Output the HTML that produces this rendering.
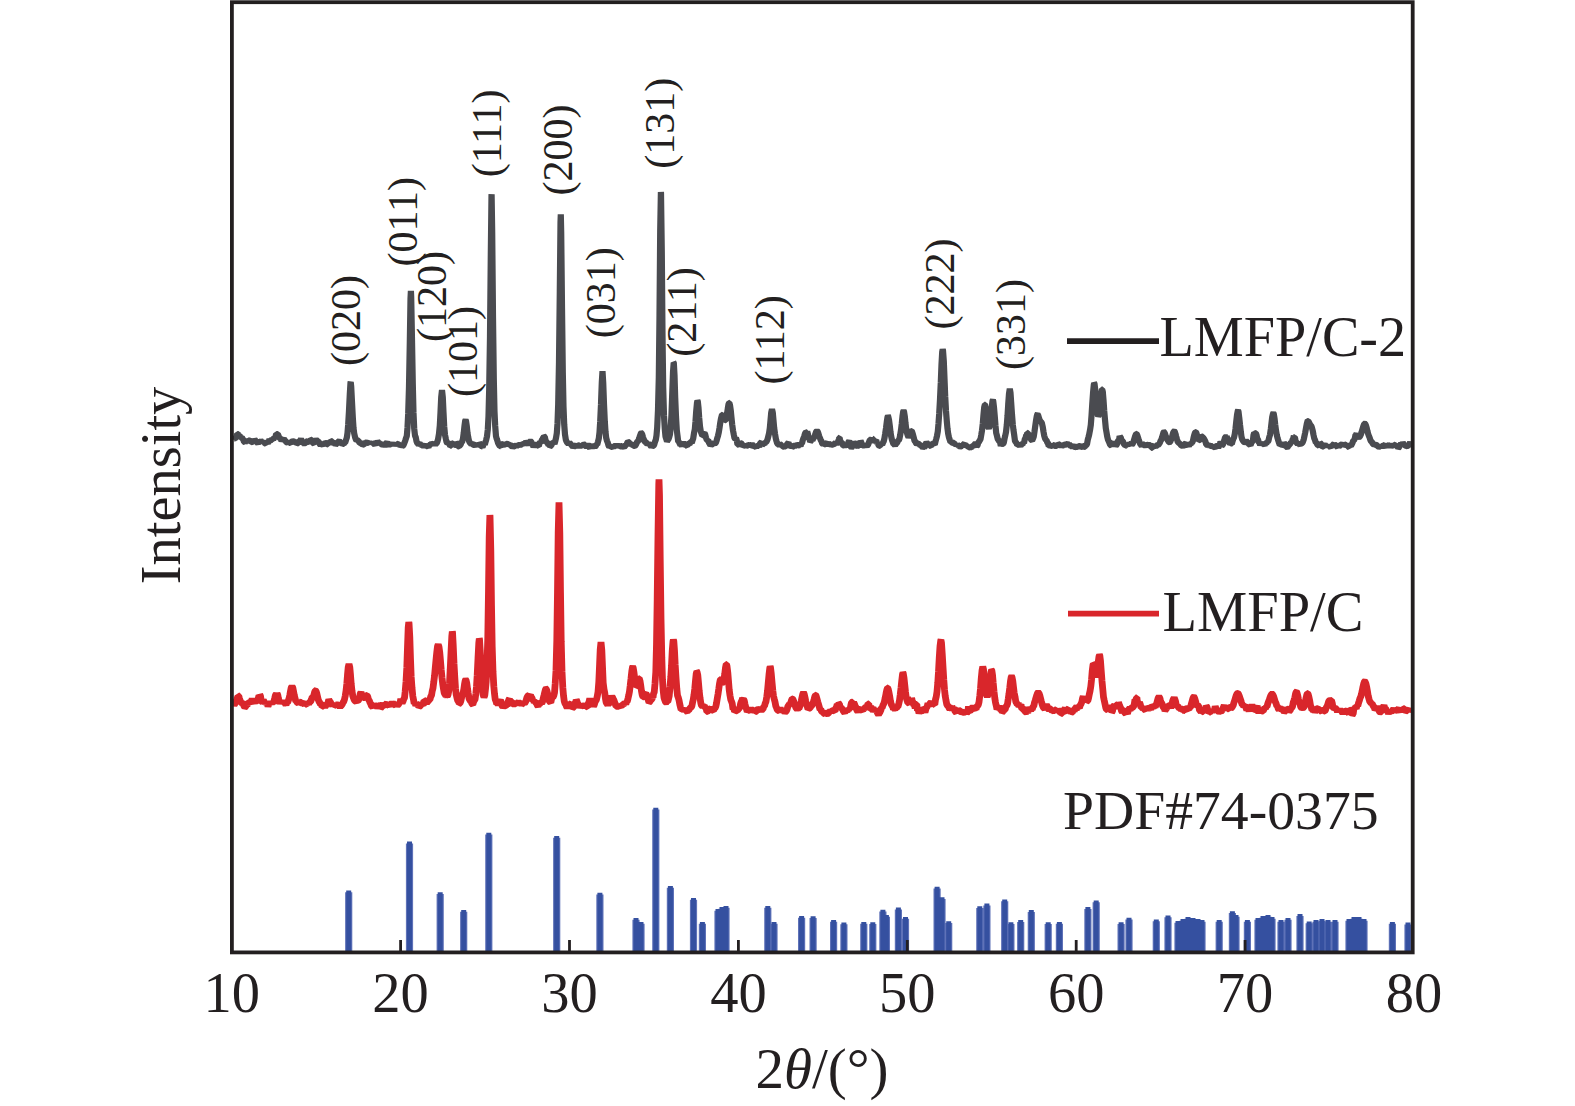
<!DOCTYPE html>
<html><head><meta charset="utf-8"><style>
html,body{margin:0;padding:0;background:#fff;}
svg{display:block;}
text{font-family:"Liberation Serif", serif;fill:#231f20;}
</style></head><body>
<svg width="1575" height="1106" viewBox="0 0 1575 1106">
<rect x="0" y="0" width="1575" height="1106" fill="#fff"/>
<path d="M348.7 951V892.2 M409.5 951V843.4 M440.2 951V894.0 M463.7 951V911.8 M488.8 951V834.5 M556.7 951V837.7 M599.9 951V894.6 M636.0 951V919.8 M641.0 951V923.8 M655.8 951V809.6 M670.4 951V887.8 M693.5 951V899.8 M702.4 951V923.8 M718.0 951V910.8 M722.0 951V908.8 M726.0 951V907.8 M767.8 951V907.8 M774.0 951V923.8 M801.6 951V917.7 M813.1 951V918.0 M833.6 951V921.8 M843.9 951V924.2 M863.8 951V923.8 M872.8 951V924.0 M882.9 951V911.6 M886.4 951V916.8 M898.4 951V909.4 M905.5 951V918.7 M937.1 951V888.5 M942.0 951V899.1 M948.7 951V923.1 M979.8 951V908.0 M986.9 951V905.4 M1004.7 951V901.3 M1010.9 951V924.0 M1020.7 951V921.9 M1031.3 951V911.9 M1048.2 951V924.0 M1059.4 951V923.7 M1087.9 951V908.9 M1096.2 951V902.3 M1121.1 951V924.0 M1129.0 951V919.6 M1156.3 951V921.2 M1168.0 951V917.3 M1178.0 951V922.8 M1183.0 951V920.8 M1188.0 951V918.8 M1193.0 951V919.8 M1198.0 951V920.8 M1202.0 951V921.8 M1219.2 951V921.8 M1232.4 951V913.0 M1236.0 951V916.8 M1247.4 951V921.8 M1258.0 951V919.8 M1263.0 951V917.8 M1268.0 951V916.8 M1272.0 951V918.8 M1281.0 951V921.8 M1288.0 951V919.8 M1300.0 951V915.9 M1309.2 951V923.2 M1316.0 951V921.8 M1322.0 951V920.8 M1328.0 951V921.8 M1335.0 951V921.8 M1349.0 951V920.8 M1354.0 951V918.8 M1359.0 951V918.8 M1364.0 951V920.8 M1392.4 951V923.8 M1408.0 951V924.4" stroke="#5f72b8" stroke-width="7.2" stroke-linecap="butt" fill="none"/>
<path d="M348.7 951V890.4 M409.5 951V841.6 M440.2 951V892.2 M463.7 951V910.0 M488.8 951V832.7 M556.7 951V835.9 M599.9 951V892.8 M636.0 951V918.0 M641.0 951V922.0 M655.8 951V807.8 M670.4 951V886.0 M693.5 951V898.0 M702.4 951V922.0 M718.0 951V909.0 M722.0 951V907.0 M726.0 951V906.0 M767.8 951V906.0 M774.0 951V922.0 M801.6 951V915.9 M813.1 951V916.2 M833.6 951V920.0 M843.9 951V922.4 M863.8 951V922.0 M872.8 951V922.2 M882.9 951V909.8 M886.4 951V915.0 M898.4 951V907.6 M905.5 951V916.9 M937.1 951V886.7 M942.0 951V897.3 M948.7 951V921.3 M979.8 951V906.2 M986.9 951V903.6 M1004.7 951V899.5 M1010.9 951V922.2 M1020.7 951V920.1 M1031.3 951V910.1 M1048.2 951V922.2 M1059.4 951V921.9 M1087.9 951V907.1 M1096.2 951V900.5 M1121.1 951V922.2 M1129.0 951V917.8 M1156.3 951V919.4 M1168.0 951V915.5 M1178.0 951V921.0 M1183.0 951V919.0 M1188.0 951V917.0 M1193.0 951V918.0 M1198.0 951V919.0 M1202.0 951V920.0 M1219.2 951V920.0 M1232.4 951V911.2 M1236.0 951V915.0 M1247.4 951V920.0 M1258.0 951V918.0 M1263.0 951V916.0 M1268.0 951V915.0 M1272.0 951V917.0 M1281.0 951V920.0 M1288.0 951V918.0 M1300.0 951V914.1 M1309.2 951V921.4 M1316.0 951V920.0 M1322.0 951V919.0 M1328.0 951V920.0 M1335.0 951V920.0 M1349.0 951V919.0 M1354.0 951V917.0 M1359.0 951V917.0 M1364.0 951V919.0 M1392.4 951V922.0 M1408.0 951V922.6" stroke="#3550a0" stroke-width="5" stroke-linecap="butt" fill="none"/>
<polyline points="233.5,703.6 234.2,704.8 235.0,703.6 235.8,700.8 236.5,700.5 237.2,698.1 237.9,696.6 238.0,695.8 238.8,696.1 239.5,698.7 240.2,700.6 241.0,702.3 241.8,703.1 242.5,703.1 243.2,703.8 244.0,706.0 244.8,707.3 245.5,706.7 246.2,705.6 247.0,706.1 247.8,702.2 248.5,702.4 249.2,704.0 250.0,701.6 250.8,701.6 251.5,702.3 252.2,698.4 253.0,701.0 253.8,702.0 254.5,703.4 255.2,700.3 256.0,702.5 256.8,699.8 257.5,700.6 258.2,698.7 259.0,695.6 259.7,697.5 259.8,694.7 260.5,696.0 261.2,700.5 262.0,701.7 262.8,702.6 263.5,700.7 264.2,701.6 265.0,703.0 265.8,701.9 266.5,704.4 267.2,703.6 268.0,706.1 268.8,704.3 269.5,702.7 270.2,703.7 271.0,702.0 271.8,703.4 272.5,702.4 273.2,702.9 274.0,701.0 274.8,697.9 275.5,695.0 276.2,694.2 276.7,695.3 277.0,693.4 277.8,695.2 278.5,698.8 279.2,701.1 280.0,703.3 280.8,701.5 281.5,702.7 282.2,700.4 283.0,703.3 283.8,701.1 284.5,703.5 285.2,703.4 286.0,705.0 286.8,702.3 287.5,702.5 288.2,701.0 289.0,698.5 289.8,695.2 290.5,691.2 291.2,687.8 292.0,686.4 292.8,687.8 293.5,691.2 294.2,694.9 295.0,698.0 295.8,701.4 296.5,701.3 297.2,702.6 298.0,702.9 298.8,701.1 299.5,702.2 300.2,702.2 301.0,702.8 301.8,703.1 302.5,702.8 303.2,702.2 304.0,703.8 304.8,704.9 305.5,702.0 306.2,704.2 307.0,704.4 307.8,702.6 308.5,704.6 309.2,702.2 310.0,701.9 310.8,701.2 311.5,699.3 312.2,697.2 313.0,697.1 313.8,695.3 314.5,692.5 315.2,690.7 315.5,690.6 316.0,691.1 316.8,693.4 317.5,696.4 318.2,699.5 319.0,701.5 319.8,702.7 320.5,704.5 321.2,704.1 322.0,706.5 322.8,706.3 323.5,705.1 324.2,705.0 325.0,706.9 325.8,705.6 326.5,703.4 327.2,705.0 328.0,702.7 328.8,699.6 329.5,701.0 330.2,701.9 331.0,703.2 331.8,704.5 332.5,705.7 333.2,703.1 334.0,705.6 334.8,705.2 335.5,703.4 336.2,704.9 337.0,704.7 337.8,705.0 338.5,706.5 339.2,705.9 340.0,707.1 340.8,706.0 341.5,705.4 342.2,704.4 343.0,702.5 343.8,701.4 344.5,699.4 345.2,696.1 346.0,691.1 346.8,683.8 347.5,674.9 348.2,667.3 349.0,664.1 349.8,667.3 350.5,674.9 351.2,684.0 352.0,691.1 352.8,696.1 353.5,697.9 354.2,699.8 355.0,700.8 355.8,701.3 356.5,701.9 357.2,700.6 358.0,700.8 358.8,699.6 359.5,697.9 360.2,693.8 361.0,692.2 361.8,695.3 362.5,696.4 363.2,697.6 364.0,697.6 364.8,697.5 365.5,696.4 366.2,695.5 367.0,695.4 367.8,696.9 368.5,699.8 369.2,700.3 370.0,702.5 370.8,704.1 371.5,706.1 372.2,706.5 373.0,707.6 373.8,703.4 374.5,705.9 375.2,705.0 376.0,706.7 376.8,706.2 377.5,707.7 378.2,706.6 379.0,705.7 379.8,705.4 380.5,708.2 381.2,707.5 382.0,705.3 382.8,703.1 383.5,706.2 384.2,705.3 385.0,705.3 385.8,705.8 386.5,703.7 387.2,702.8 388.0,705.1 388.8,705.3 389.5,706.1 390.2,704.1 391.0,705.4 391.8,703.7 392.5,702.1 393.2,703.9 394.0,704.0 394.8,704.8 395.5,705.2 396.2,703.1 397.0,704.3 397.8,704.9 398.5,704.5 399.2,702.6 400.0,703.2 400.8,699.0 401.5,701.2 402.2,702.9 403.0,701.3 403.8,699.0 404.5,697.8 405.2,691.4 406.0,681.8 406.8,667.7 407.5,647.1 408.2,627.7 408.8,622.2 409.0,623.0 409.8,637.1 410.5,658.8 411.2,677.0 412.0,687.9 412.8,696.2 413.5,699.7 414.2,703.7 415.0,702.7 415.8,705.5 416.5,703.9 417.2,704.6 418.0,704.7 418.8,707.0 419.5,706.4 420.2,705.8 421.0,704.8 421.8,704.2 422.5,704.7 423.2,705.4 424.0,700.5 424.8,700.8 425.5,703.3 426.2,701.6 427.0,702.5 427.8,701.7 428.5,700.4 429.2,699.9 430.0,699.5 430.8,696.3 431.5,695.4 432.2,691.3 433.0,688.1 433.8,681.8 434.5,676.2 435.2,668.5 436.0,660.1 436.8,652.1 437.5,646.4 438.2,644.5 438.2,644.5 439.0,646.9 439.8,653.0 440.5,661.0 441.2,669.5 442.0,677.8 442.8,684.5 443.5,689.0 444.2,692.8 445.0,694.3 445.8,695.6 446.5,695.2 447.2,696.2 448.0,694.9 448.8,690.8 449.5,683.3 450.2,669.8 451.0,652.9 451.8,636.3 452.3,631.6 452.5,632.3 453.2,644.8 454.0,663.5 454.8,677.4 455.5,688.3 456.2,694.5 457.0,698.0 457.8,700.9 458.5,701.4 459.2,703.5 460.0,703.2 460.8,701.3 461.5,698.1 462.2,694.8 463.0,693.4 463.8,689.5 464.5,684.4 465.2,680.5 465.7,679.8 466.0,680.1 466.8,683.4 467.5,688.6 468.2,693.3 469.0,698.6 469.8,700.0 470.5,701.1 471.2,701.6 472.0,703.9 472.8,704.5 473.5,702.0 474.2,700.5 475.0,699.8 475.8,694.1 476.5,686.5 477.2,675.2 478.0,658.5 478.8,643.0 479.3,638.6 479.5,639.2 480.2,650.2 481.0,666.4 481.8,680.7 482.5,689.1 483.2,695.0 484.0,697.2 484.8,695.2 485.5,688.9 486.2,681.7 487.0,665.4 487.8,637.6 488.5,591.1 489.2,536.9 489.9,515.2 490.0,515.8 490.8,550.4 491.5,605.5 492.2,646.8 493.0,672.0 493.8,686.3 494.5,693.7 495.2,699.4 496.0,701.2 496.8,704.0 497.5,703.3 498.2,704.8 499.0,702.7 499.8,701.3 500.5,700.5 501.2,702.0 502.0,705.7 502.8,706.8 503.5,706.1 504.2,705.4 505.0,705.8 505.8,705.7 506.5,705.0 507.2,706.2 508.0,702.2 508.8,699.8 509.5,698.8 510.2,703.7 511.0,701.7 511.8,702.2 512.5,702.2 513.2,703.8 514.0,704.3 514.8,703.9 515.5,702.4 516.2,705.1 517.0,703.1 517.8,702.6 518.5,702.0 519.2,703.2 520.0,703.2 520.8,703.2 521.5,704.6 522.2,703.9 523.0,703.7 523.8,701.7 524.5,703.2 525.2,702.5 526.0,700.9 526.8,697.9 527.5,696.3 528.2,695.7 529.0,695.5 529.8,694.3 529.8,695.9 530.5,695.1 531.2,697.2 532.0,698.0 532.8,700.8 533.5,699.9 534.2,702.7 535.0,701.2 535.8,702.8 536.5,703.3 537.2,705.1 538.0,706.1 538.8,704.3 539.5,704.5 540.2,703.2 541.0,702.5 541.8,703.4 542.5,701.7 543.2,698.6 544.0,695.4 544.8,692.1 545.5,689.4 546.0,688.8 546.2,688.9 547.0,691.0 547.8,694.4 548.5,697.9 549.2,701.3 550.0,701.8 550.8,702.5 551.5,699.3 552.2,697.4 553.0,697.3 553.8,695.6 554.5,692.8 555.2,683.7 556.0,670.4 556.8,640.4 557.5,592.1 558.2,532.6 559.0,502.3 559.8,532.8 560.5,592.4 561.2,641.2 562.0,671.4 562.8,687.5 563.5,695.5 564.2,700.9 565.0,703.5 565.8,704.6 566.5,706.4 567.2,707.8 568.0,705.7 568.8,706.4 569.5,705.8 570.2,704.0 571.0,703.6 571.8,706.1 572.5,707.9 573.2,707.5 574.0,706.4 574.8,703.6 575.5,702.1 576.0,701.5 576.2,699.5 577.0,701.4 577.8,704.2 578.5,705.6 579.2,705.3 580.0,707.3 580.8,706.0 581.5,705.3 582.2,705.8 583.0,707.1 583.8,706.0 584.5,706.6 585.2,704.7 586.0,705.1 586.8,706.8 587.5,707.0 588.2,703.5 589.0,702.0 589.8,698.5 590.5,701.9 591.2,700.8 591.4,699.9 592.0,701.7 592.8,703.8 593.5,706.3 594.2,704.9 595.0,702.3 595.8,700.7 596.5,699.6 597.2,696.6 598.0,692.2 598.8,682.1 599.5,666.5 600.2,649.9 601.0,642.2 601.8,650.0 602.5,666.7 603.2,682.9 604.0,689.2 604.8,693.2 605.5,698.9 606.2,702.7 607.0,703.7 607.8,705.0 608.5,702.9 609.2,703.3 610.0,703.1 610.8,698.5 611.5,695.9 612.2,697.8 612.3,696.3 613.0,698.9 613.8,699.8 614.5,701.8 615.2,703.8 616.0,706.2 616.8,706.3 617.5,706.5 618.2,706.3 619.0,706.2 619.8,704.9 620.5,706.4 621.2,707.0 622.0,704.6 622.8,704.6 623.0,705.6 623.5,704.3 624.2,703.8 625.0,702.2 625.8,704.5 626.5,701.8 627.2,701.7 628.0,698.6 628.8,695.1 629.5,691.4 630.2,685.7 631.0,678.7 631.8,671.4 632.5,667.1 632.7,666.8 633.2,667.8 634.0,672.6 634.8,678.9 635.5,683.9 636.2,686.3 637.0,685.9 637.8,683.1 638.5,679.8 639.2,678.6 639.3,678.6 640.0,680.9 640.8,685.9 641.5,691.1 642.2,695.0 643.0,696.9 643.8,696.9 644.5,695.7 645.2,694.2 646.0,693.8 646.8,695.1 647.5,697.6 648.2,700.0 649.0,702.3 649.8,701.7 650.5,700.6 651.2,699.6 652.0,699.0 652.8,696.2 653.0,697.7 653.5,693.6 654.2,692.5 655.0,683.7 655.8,672.1 656.5,644.6 657.2,599.1 658.0,534.7 658.8,483.6 659.0,479.4 659.5,495.7 660.2,558.1 661.0,618.6 661.8,657.7 662.5,680.1 663.2,690.5 664.0,697.6 664.8,700.1 665.5,702.0 666.2,702.4 667.0,701.7 667.8,701.7 668.5,699.1 669.2,696.0 670.0,687.1 670.8,677.1 671.5,665.8 672.2,651.6 673.0,641.4 673.4,639.8 673.8,641.0 674.5,650.7 675.2,665.0 676.0,677.8 676.8,688.7 677.5,695.3 678.2,697.3 679.0,700.1 679.8,704.4 680.5,707.3 681.2,709.8 682.0,708.5 682.8,711.0 683.5,708.8 684.2,711.6 685.0,709.9 685.8,708.7 686.5,711.2 687.2,711.6 688.0,710.4 688.8,710.3 689.5,708.9 690.2,707.9 691.0,707.3 691.8,706.3 692.5,702.8 693.2,699.8 694.0,694.9 694.8,688.4 695.5,680.5 696.2,673.8 696.9,671.5 697.0,671.6 697.8,675.3 698.5,682.7 699.2,691.0 700.0,697.8 700.8,703.0 701.5,705.5 702.2,706.0 703.0,705.1 703.8,706.8 704.5,706.4 705.2,707.3 706.0,707.5 706.8,711.5 707.5,711.6 708.2,710.7 709.0,708.9 709.8,709.0 710.5,708.2 711.2,708.9 712.0,707.6 712.8,710.3 713.5,710.6 714.2,708.6 715.0,708.2 715.8,706.6 716.5,703.3 717.2,699.0 718.0,694.2 718.8,688.8 719.5,683.6 720.2,680.1 720.4,679.8 721.0,679.6 721.8,681.1 722.5,682.6 723.2,682.3 724.0,679.1 724.8,673.6 725.5,667.6 726.2,664.3 726.5,664.3 727.0,666.1 727.8,672.6 728.5,681.1 729.2,689.7 730.0,695.5 730.8,699.8 731.5,701.5 732.2,703.4 733.0,709.4 733.8,708.6 734.5,711.3 735.2,710.9 736.0,709.8 736.8,710.9 737.5,711.0 738.2,708.7 739.0,708.5 739.8,707.9 740.5,704.1 741.2,701.9 742.0,700.2 742.7,698.0 742.8,700.0 743.5,699.5 744.2,700.4 745.0,704.3 745.8,707.3 746.5,709.0 747.2,711.5 748.0,710.6 748.8,710.5 749.5,710.0 750.2,709.6 751.0,708.7 751.8,710.0 752.5,710.1 753.2,710.2 754.0,708.1 754.8,711.9 755.5,711.6 756.2,711.3 757.0,709.8 757.8,709.3 758.5,709.5 759.2,709.5 760.0,709.2 760.8,709.6 761.5,710.2 762.2,709.5 763.0,709.2 763.8,706.3 764.5,706.1 765.2,703.4 766.0,701.6 766.8,696.4 767.5,691.0 768.2,683.4 769.0,674.7 769.8,668.0 770.2,666.7 770.5,667.3 771.2,673.1 772.0,682.1 772.8,690.3 773.5,696.0 774.2,698.9 775.0,701.9 775.8,706.1 776.5,707.6 777.2,709.6 778.0,710.4 778.8,710.6 779.5,709.3 780.2,707.9 781.0,710.4 781.8,709.3 782.5,712.3 783.2,710.5 784.0,711.1 784.8,712.5 785.5,711.7 786.2,711.1 787.0,709.8 787.8,706.6 788.5,705.5 789.2,704.3 790.0,704.6 790.8,702.6 791.5,700.2 792.2,698.8 792.4,698.8 793.0,699.4 793.8,701.5 794.5,703.9 795.2,705.9 796.0,708.0 796.8,708.5 797.5,709.6 798.2,708.3 799.0,708.5 799.8,706.4 800.5,704.4 801.2,701.2 802.0,697.4 802.8,693.9 803.5,692.5 804.2,693.9 805.0,697.4 805.8,701.4 806.5,704.4 807.2,706.4 808.0,709.1 808.8,708.5 809.5,708.1 810.2,707.8 811.0,706.2 811.8,705.8 812.5,703.9 813.2,702.6 814.0,699.7 814.8,696.7 815.5,695.1 815.6,695.1 816.2,696.1 817.0,699.0 817.8,701.9 818.5,704.2 819.2,706.7 820.0,709.7 820.8,709.4 821.5,711.1 822.2,711.8 823.0,711.8 823.8,713.6 824.5,713.8 825.2,711.6 826.0,712.7 826.8,713.5 827.5,713.8 828.2,713.4 829.0,712.4 829.8,711.6 830.5,710.4 831.2,711.7 832.0,710.9 832.8,710.6 833.5,710.4 834.2,710.8 835.0,711.2 835.8,708.2 836.5,707.0 837.2,704.2 837.8,704.9 838.0,705.4 838.8,703.6 839.5,704.0 840.2,708.2 841.0,707.3 841.8,708.6 842.5,708.8 843.2,711.0 844.0,712.0 844.8,713.1 845.5,710.3 846.2,710.6 847.0,711.7 847.8,709.4 848.5,710.2 849.2,708.6 850.0,709.4 850.8,705.6 851.5,702.5 852.2,702.2 852.9,702.1 853.0,703.7 853.8,702.7 854.5,704.0 855.2,706.4 856.0,707.1 856.8,710.3 857.5,710.9 858.2,710.1 859.0,708.7 859.8,707.8 860.5,710.2 861.2,709.2 862.0,710.3 862.8,710.9 863.5,708.2 864.2,709.2 865.0,707.7 865.8,707.0 866.5,707.7 867.2,706.4 868.0,703.9 868.8,703.9 869.5,708.9 870.2,708.7 871.0,707.2 871.8,708.4 872.5,709.5 873.2,711.2 874.0,709.9 874.8,709.8 875.5,710.0 876.2,709.4 877.0,711.8 877.8,713.6 878.5,714.6 879.2,713.3 880.0,712.1 880.8,710.4 881.5,707.6 882.2,707.6 883.0,705.2 883.8,703.7 884.5,701.2 885.2,697.8 886.0,693.8 886.8,689.9 887.5,688.0 887.6,688.0 888.2,689.1 889.0,692.6 889.8,696.9 890.5,701.4 891.2,704.1 892.0,705.6 892.8,706.8 893.5,709.5 894.2,708.5 895.0,709.6 895.8,707.9 896.5,708.2 897.2,706.8 898.0,706.6 898.8,703.6 899.5,700.4 900.2,694.9 901.0,688.1 901.8,680.4 902.5,674.3 903.0,672.9 903.2,673.2 904.0,677.8 904.8,685.3 905.5,691.9 906.2,697.5 907.0,700.3 907.8,702.8 908.5,703.0 909.2,701.5 910.0,702.1 910.8,699.8 911.5,699.6 911.6,698.0 912.2,700.4 913.0,702.5 913.8,705.2 914.5,705.2 915.2,708.2 916.0,704.5 916.8,704.5 917.5,710.5 918.2,709.6 919.0,713.2 919.8,711.1 920.5,710.7 921.2,711.8 922.0,710.8 922.8,708.3 923.5,708.8 924.2,710.3 925.0,712.3 925.8,709.5 926.5,707.5 927.2,706.6 928.0,703.2 928.8,706.1 929.5,704.3 930.2,703.2 931.0,702.4 931.8,703.6 932.5,702.4 933.2,704.3 934.0,704.2 934.8,704.6 935.5,699.5 936.2,696.9 937.0,691.7 937.8,682.6 938.5,671.8 939.2,658.6 940.0,646.4 940.8,640.2 940.9,640.0 941.5,643.0 942.2,653.4 943.0,666.9 943.8,680.0 944.5,689.5 945.2,695.9 946.0,700.5 946.8,704.5 947.5,705.6 948.2,706.1 949.0,707.9 949.8,709.1 950.5,707.9 951.2,708.1 952.0,709.5 952.8,707.8 953.5,708.3 954.2,707.8 955.0,711.6 955.8,712.0 956.5,710.5 957.2,712.8 958.0,710.9 958.8,710.2 959.5,710.6 960.2,711.4 961.0,712.0 961.8,711.9 962.5,711.6 963.2,712.4 964.0,712.5 964.8,712.1 965.5,713.7 966.2,711.5 967.0,712.6 967.8,712.0 968.5,706.4 969.2,710.9 970.0,711.2 970.8,710.0 971.5,708.1 972.2,707.7 973.0,708.2 973.8,709.0 974.5,709.6 975.2,708.0 976.0,709.2 976.8,706.4 977.5,705.9 978.2,705.2 979.0,702.1 979.8,695.7 980.5,688.5 981.2,679.1 982.0,670.7 982.8,666.7 982.8,666.7 983.5,669.4 984.2,676.8 985.0,684.9 985.8,691.6 986.5,695.1 987.2,696.6 988.0,694.8 988.8,691.6 989.5,685.8 990.2,678.3 991.0,672.0 991.6,670.2 991.8,670.4 992.5,674.8 993.2,682.8 994.0,691.3 994.8,698.1 995.5,702.4 996.2,705.4 997.0,709.3 997.8,707.6 998.5,708.1 999.2,706.0 1000.0,708.3 1000.8,710.2 1001.5,710.1 1002.2,712.1 1003.0,711.5 1003.8,710.0 1004.5,709.8 1005.2,709.4 1006.0,706.1 1006.8,705.8 1007.5,703.9 1008.2,699.3 1009.0,693.8 1009.8,687.4 1010.5,681.1 1011.2,677.1 1011.6,676.5 1012.0,677.1 1012.8,681.1 1013.5,687.1 1014.2,692.9 1015.0,696.6 1015.8,701.8 1016.5,702.8 1017.2,704.4 1018.0,704.4 1018.8,705.9 1019.5,705.3 1020.2,705.7 1021.0,704.6 1021.8,709.0 1022.5,709.0 1023.2,709.0 1024.0,709.3 1024.8,711.4 1025.5,711.8 1026.2,712.2 1027.0,711.5 1027.8,712.9 1028.5,709.3 1029.2,707.9 1030.0,709.2 1030.8,710.4 1031.5,709.1 1032.2,709.7 1033.0,706.7 1033.8,706.1 1034.5,702.5 1035.2,700.5 1036.0,697.7 1036.8,695.1 1037.5,693.2 1038.2,692.5 1038.2,692.5 1039.0,693.3 1039.8,695.4 1040.5,698.1 1041.2,700.9 1042.0,703.9 1042.8,706.3 1043.5,707.8 1044.2,708.1 1045.0,709.6 1045.8,706.0 1046.5,705.1 1047.2,706.2 1048.0,708.7 1048.8,709.3 1049.5,708.6 1050.2,708.8 1051.0,709.8 1051.8,709.9 1052.5,711.7 1053.2,710.9 1054.0,711.5 1054.8,709.9 1055.5,709.9 1056.2,711.2 1057.0,709.6 1057.8,711.5 1058.5,710.9 1059.2,711.1 1060.0,712.5 1060.8,712.3 1061.5,713.6 1062.2,713.5 1063.0,708.3 1063.8,710.5 1064.5,709.5 1065.2,708.1 1066.0,711.1 1066.8,711.4 1067.5,709.3 1068.2,709.0 1069.0,711.4 1069.8,711.1 1070.5,711.9 1071.2,711.5 1072.0,712.1 1072.8,711.9 1073.5,709.9 1074.2,711.5 1075.0,707.9 1075.8,707.8 1076.5,706.8 1077.2,707.8 1078.0,707.5 1078.8,707.2 1079.5,707.8 1080.2,705.1 1081.0,704.1 1081.8,702.1 1082.5,698.5 1083.2,696.4 1084.0,699.9 1084.4,700.3 1084.8,699.0 1085.5,700.8 1086.2,698.9 1087.0,701.1 1087.8,700.7 1088.5,698.3 1089.2,694.8 1090.0,691.2 1090.8,686.5 1091.5,680.0 1092.2,671.2 1093.0,665.0 1093.3,664.0 1093.8,664.3 1094.5,668.4 1095.2,673.5 1096.0,676.2 1096.8,674.9 1097.5,669.7 1098.2,662.4 1099.0,656.4 1099.6,655.1 1099.8,655.4 1100.5,660.9 1101.2,670.4 1102.0,681.1 1102.8,689.5 1103.5,697.0 1104.2,700.3 1105.0,704.0 1105.8,707.7 1106.5,709.6 1107.2,709.8 1108.0,707.3 1108.8,708.3 1109.5,708.0 1110.2,708.0 1111.0,707.9 1111.8,712.0 1112.5,711.2 1113.2,706.4 1114.0,705.8 1114.8,707.2 1115.5,708.2 1116.2,705.9 1117.0,705.0 1117.8,704.7 1118.0,704.2 1118.2,704.9 1118.5,702.3 1119.2,704.5 1120.0,706.4 1120.8,708.1 1121.5,711.0 1122.2,711.8 1123.0,709.8 1123.8,709.4 1124.5,712.9 1125.2,713.2 1126.0,711.2 1126.8,712.6 1127.5,713.7 1128.2,711.0 1129.0,709.2 1129.8,708.2 1130.5,709.3 1131.2,708.5 1132.0,707.2 1132.8,707.2 1133.5,706.8 1134.2,704.5 1135.0,699.6 1135.8,700.6 1136.5,697.7 1136.9,697.6 1137.2,700.4 1138.0,703.0 1138.8,705.4 1139.5,702.6 1140.2,704.0 1141.0,707.4 1141.8,707.5 1142.5,707.6 1143.2,709.7 1144.0,708.3 1144.8,709.7 1145.5,710.2 1146.2,707.1 1147.0,707.9 1147.8,710.4 1148.5,708.5 1149.2,709.6 1150.0,707.7 1150.8,709.4 1151.5,707.1 1152.2,706.0 1153.0,706.4 1153.8,706.8 1154.5,706.1 1155.2,707.1 1156.0,705.0 1156.8,703.1 1157.5,700.4 1158.2,697.9 1159.0,696.8 1159.8,697.9 1160.5,700.4 1161.2,702.7 1162.0,703.6 1162.8,706.7 1163.5,707.3 1164.2,707.7 1165.0,710.8 1165.8,709.4 1166.5,709.1 1167.2,705.5 1168.0,705.8 1168.8,705.9 1169.5,708.3 1170.2,705.0 1171.0,707.6 1171.8,706.0 1172.5,701.4 1173.2,699.5 1174.0,697.9 1174.2,697.4 1174.8,699.3 1175.5,701.2 1176.2,704.6 1177.0,706.1 1177.8,705.8 1178.5,707.6 1179.2,708.1 1180.0,707.3 1180.8,708.8 1181.5,710.4 1182.2,708.1 1183.0,711.0 1183.8,710.6 1184.5,711.0 1185.2,709.4 1186.0,707.8 1186.8,708.4 1187.5,707.5 1188.2,708.8 1189.0,709.1 1189.8,707.5 1190.5,707.5 1191.2,704.4 1192.0,701.6 1192.8,698.8 1193.5,697.0 1193.8,696.8 1194.2,697.2 1195.0,699.3 1195.8,702.2 1196.5,705.0 1197.2,705.7 1198.0,705.5 1198.8,706.2 1199.5,710.5 1200.2,710.8 1201.0,709.8 1201.8,711.9 1202.5,711.7 1203.2,709.9 1204.0,709.0 1204.8,711.3 1205.5,709.2 1206.2,706.0 1207.0,707.1 1207.8,710.0 1208.5,712.8 1209.2,712.2 1210.0,712.2 1210.8,711.1 1211.5,709.8 1212.2,711.7 1213.0,710.4 1213.8,711.7 1214.5,709.8 1215.2,706.4 1216.0,708.7 1216.8,710.8 1217.5,710.3 1218.2,711.2 1219.0,711.8 1219.8,711.4 1220.5,711.2 1221.2,711.5 1222.0,710.6 1222.8,708.5 1223.5,707.2 1224.2,705.3 1225.0,708.5 1225.8,709.5 1226.5,708.1 1227.2,707.2 1228.0,708.9 1228.8,709.0 1229.5,707.4 1230.2,707.2 1231.0,708.2 1231.8,707.6 1232.5,706.6 1233.2,705.2 1234.0,702.4 1234.8,700.2 1235.5,697.7 1236.2,695.4 1237.0,693.8 1237.7,693.3 1237.8,693.3 1238.5,694.0 1239.2,695.7 1240.0,698.0 1240.8,700.4 1241.5,702.6 1242.2,704.6 1243.0,704.8 1243.8,706.8 1244.5,705.7 1245.2,705.2 1246.0,707.9 1246.8,710.0 1247.5,707.8 1248.2,708.9 1249.0,711.0 1249.8,708.5 1250.5,710.1 1251.2,707.1 1252.0,705.0 1252.8,706.9 1253.5,708.6 1254.2,709.0 1255.0,709.8 1255.8,709.7 1256.5,707.6 1257.2,705.7 1258.0,710.7 1258.8,712.7 1259.5,710.7 1260.2,712.0 1261.0,710.7 1261.8,710.7 1262.5,711.0 1263.2,711.0 1264.0,709.1 1264.8,707.7 1265.5,708.5 1266.2,706.7 1267.0,706.8 1267.8,703.6 1268.5,701.7 1269.2,699.9 1270.0,697.6 1270.8,695.6 1271.5,694.3 1272.0,694.0 1272.2,694.1 1273.0,695.0 1273.8,696.9 1274.5,699.2 1275.2,701.6 1276.0,703.3 1276.8,706.0 1277.5,706.2 1278.2,708.7 1279.0,709.6 1279.8,708.0 1280.5,708.7 1281.2,709.2 1282.0,708.9 1282.8,709.7 1283.5,710.9 1284.2,712.0 1285.0,711.2 1285.8,710.5 1286.5,709.0 1287.2,709.2 1288.0,709.8 1288.8,709.8 1289.5,710.9 1290.2,710.5 1291.0,708.1 1291.8,707.5 1292.5,706.7 1293.2,702.7 1294.0,700.3 1294.8,697.6 1295.5,693.9 1296.2,691.9 1296.4,691.8 1297.0,692.7 1297.8,695.9 1298.5,699.4 1299.2,702.4 1300.0,704.2 1300.8,707.2 1301.5,707.7 1302.2,707.5 1303.0,707.9 1303.8,707.4 1304.5,705.2 1305.2,701.9 1306.0,698.2 1306.8,694.9 1307.5,693.3 1307.6,693.3 1308.2,694.4 1309.0,697.4 1309.8,701.2 1310.5,705.5 1311.2,707.3 1312.0,710.1 1312.8,709.8 1313.5,711.1 1314.2,709.9 1315.0,712.0 1315.8,710.6 1316.5,709.2 1317.2,708.6 1318.0,708.5 1318.8,709.6 1319.5,711.0 1320.2,709.0 1321.0,711.2 1321.8,711.7 1322.5,708.8 1323.2,709.4 1324.0,711.1 1324.8,711.1 1325.5,710.1 1326.2,707.6 1327.0,706.7 1327.8,704.4 1328.5,701.8 1329.2,700.8 1330.0,700.2 1330.8,700.4 1331.5,700.4 1332.2,702.9 1333.0,707.4 1333.8,708.2 1334.5,708.0 1335.2,707.8 1336.0,708.9 1336.8,709.6 1337.5,712.0 1338.2,709.0 1339.0,711.0 1339.8,708.8 1340.5,711.2 1341.2,709.5 1342.0,712.0 1342.8,713.3 1343.5,712.1 1344.2,710.3 1345.0,710.8 1345.8,711.6 1346.5,713.8 1347.2,712.2 1348.0,712.5 1348.8,709.8 1349.5,710.1 1350.2,711.5 1351.0,711.5 1351.8,713.1 1352.5,714.4 1353.2,713.8 1354.0,707.8 1354.8,708.1 1355.5,707.1 1356.2,708.6 1357.0,705.4 1357.8,706.1 1358.5,703.1 1359.2,701.0 1360.0,698.2 1360.8,696.6 1361.5,693.9 1362.2,690.8 1363.0,686.7 1363.8,683.4 1364.5,681.6 1364.8,681.4 1365.2,681.8 1366.0,684.0 1366.8,687.5 1367.5,691.6 1368.2,696.0 1369.0,699.0 1369.8,701.7 1370.5,702.3 1371.2,703.5 1372.0,703.3 1372.8,705.2 1373.5,706.3 1374.2,707.2 1375.0,709.7 1375.8,708.9 1376.5,708.4 1377.2,706.1 1378.0,709.0 1378.8,710.3 1379.5,711.7 1380.2,712.1 1381.0,711.8 1381.8,709.8 1382.5,711.4 1383.2,707.2 1384.0,705.4 1384.8,708.3 1385.5,708.3 1386.2,710.0 1387.0,711.5 1387.8,711.1 1388.5,713.8 1389.2,712.0 1390.0,711.6 1390.8,712.5 1391.5,711.0 1392.2,711.6 1393.0,710.2 1393.8,708.2 1394.5,710.6 1395.2,709.5 1396.0,710.3 1396.8,710.2 1397.5,709.7 1398.2,709.4 1399.0,708.6 1399.8,710.6 1400.5,711.5 1401.2,709.6 1402.0,711.4 1402.8,708.4 1403.5,708.6 1404.2,709.5 1405.0,710.2 1405.8,711.2 1406.5,710.9 1407.2,709.7 1408.0,709.1 1408.8,711.0 1409.5,709.1 1410.2,711.2 1411.0,710.2" fill="none" stroke="#d9262b" stroke-width="6.8" stroke-linejoin="bevel"/>
<polyline points="233.5,439.7 234.2,438.5 235.0,438.5 235.8,437.6 236.5,437.0 237.2,434.1 238.0,434.2 238.8,435.1 239.5,434.9 240.2,437.7 241.0,437.5 241.8,437.1 242.5,438.9 243.2,439.2 244.0,441.9 244.8,442.2 245.5,440.3 246.2,441.4 247.0,441.2 247.8,441.8 248.5,440.4 249.2,440.5 250.0,440.5 250.8,441.2 251.5,442.0 252.2,442.1 253.0,441.5 253.8,441.0 254.5,439.4 255.2,440.4 256.0,441.1 256.8,440.3 257.5,442.8 258.2,443.7 259.0,441.6 259.8,441.8 260.5,440.2 261.2,441.2 262.0,442.5 262.8,440.9 263.5,442.6 264.2,442.3 265.0,443.4 265.8,443.6 266.5,441.9 267.2,442.3 268.0,443.0 268.8,441.5 269.5,439.3 270.2,440.9 271.0,440.0 271.8,440.1 272.5,438.3 273.2,439.7 274.0,437.8 274.8,437.9 275.5,436.6 276.2,434.0 277.0,434.1 277.8,434.1 278.5,436.1 279.2,437.7 280.0,438.1 280.8,439.2 281.5,440.7 282.2,439.8 283.0,439.5 283.8,438.5 284.5,440.2 285.2,440.6 286.0,441.7 286.8,442.4 287.5,442.7 288.2,441.6 289.0,443.1 289.8,442.8 290.5,443.1 291.2,442.0 292.0,441.6 292.8,441.4 293.5,441.4 294.2,441.7 295.0,442.9 295.8,442.1 296.5,443.8 297.2,443.4 298.0,443.0 298.8,440.5 299.5,440.9 300.2,440.6 301.0,438.9 301.8,440.9 302.5,444.1 303.2,443.1 304.0,443.6 304.8,443.2 305.5,442.8 306.2,442.8 307.0,441.3 307.8,440.9 308.5,441.9 309.2,442.1 310.0,440.8 310.8,439.7 311.5,439.8 312.2,441.7 313.0,443.0 313.8,443.3 314.5,442.1 315.2,440.7 316.0,439.7 316.8,440.5 317.5,442.3 318.2,441.5 319.0,441.9 319.8,444.2 320.5,445.0 321.2,443.6 322.0,444.4 322.8,444.8 323.5,443.9 324.2,443.7 325.0,442.9 325.8,443.1 326.5,444.5 327.2,444.3 328.0,442.8 328.8,442.8 329.5,444.2 330.2,442.4 331.0,441.0 331.8,441.2 332.5,442.7 333.2,442.7 334.0,443.0 334.8,443.6 335.5,444.8 336.2,444.1 337.0,443.0 337.8,443.3 338.5,441.4 339.2,440.9 340.0,441.9 340.8,444.4 341.5,443.3 342.2,444.4 343.0,443.8 343.8,444.0 344.5,442.8 345.2,442.5 346.0,440.0 346.8,437.8 347.5,432.9 348.2,424.3 349.0,410.7 349.8,394.2 350.5,382.6 350.7,382.0 351.2,386.6 352.0,402.1 352.8,417.1 353.5,427.9 354.2,433.4 355.0,436.9 355.8,439.3 356.5,440.6 357.2,440.2 358.0,440.6 358.8,441.4 359.5,442.6 360.2,443.1 361.0,443.3 361.8,444.0 362.5,444.8 363.2,444.5 364.0,444.4 364.8,443.3 365.5,442.0 366.2,442.5 367.0,441.9 367.8,442.9 368.5,443.0 369.2,441.8 370.0,443.6 370.8,441.8 371.5,443.6 372.2,442.0 373.0,443.5 373.8,443.5 374.5,444.1 375.2,445.1 376.0,442.7 376.8,443.0 377.5,441.0 378.2,442.5 379.0,442.6 379.8,444.0 380.5,443.3 381.2,444.3 382.0,444.5 382.8,444.1 383.5,442.7 384.2,444.9 385.0,445.8 385.8,444.8 386.5,443.1 387.2,442.1 388.0,444.2 388.8,444.4 389.5,444.6 390.2,444.3 391.0,443.9 391.8,445.2 392.5,444.0 393.2,444.5 394.0,443.2 394.8,445.0 395.5,443.9 396.2,445.5 397.0,443.9 397.8,444.0 398.5,444.5 399.2,444.6 400.0,445.4 400.8,445.1 401.5,444.8 402.2,446.2 403.0,445.7 403.8,444.5 404.5,442.6 405.2,440.8 406.0,438.3 406.8,435.9 407.5,427.4 408.2,413.7 409.0,386.5 409.8,342.9 410.5,299.0 410.9,290.8 411.2,297.2 412.0,339.7 412.8,384.3 413.5,412.9 414.2,428.5 415.0,435.5 415.8,437.5 416.5,441.3 417.2,442.9 418.0,443.6 418.8,445.1 419.5,444.0 420.2,444.4 421.0,444.7 421.8,445.0 422.5,444.2 423.2,445.7 424.0,446.9 424.8,445.2 425.5,446.7 426.2,446.2 427.0,445.7 427.8,446.4 428.5,447.3 429.2,445.1 430.0,445.2 430.8,443.5 431.5,443.9 432.2,442.6 433.0,444.4 433.8,443.4 434.5,443.8 435.2,444.9 436.0,443.6 436.8,443.0 437.5,441.3 438.2,438.6 439.0,433.7 439.8,425.6 440.5,412.3 441.2,397.3 442.0,390.0 442.8,397.3 443.5,412.4 444.2,426.2 445.0,434.9 445.8,438.7 446.5,441.9 447.2,443.0 448.0,442.8 448.8,443.5 449.5,444.3 450.2,445.9 451.0,445.6 451.8,446.0 452.5,443.4 453.2,443.2 454.0,445.1 454.8,444.8 455.5,445.0 456.2,442.8 457.0,443.6 457.8,446.3 458.5,446.3 459.2,446.4 460.0,445.2 460.8,444.2 461.5,442.3 462.2,441.7 463.0,438.4 463.8,432.5 464.5,425.8 465.2,420.7 465.6,420.0 466.0,420.9 466.8,426.2 467.5,433.0 468.2,437.2 469.0,440.9 469.8,442.6 470.5,443.3 471.2,444.1 472.0,443.7 472.8,444.3 473.5,444.7 474.2,444.9 475.0,444.9 475.8,445.4 476.5,444.7 477.2,446.0 478.0,444.6 478.8,445.5 479.5,443.3 480.2,443.9 481.0,446.5 481.8,446.3 482.5,447.3 483.2,445.3 484.0,443.1 484.8,444.6 485.5,441.9 486.2,439.8 487.0,436.4 487.8,429.5 488.5,416.1 489.2,388.5 490.0,336.2 490.8,254.5 491.5,195.3 491.6,194.3 492.2,232.5 493.0,317.1 493.8,379.1 494.5,411.3 495.2,425.9 496.0,436.2 496.8,439.1 497.5,441.1 498.2,443.4 499.0,444.9 499.8,446.1 500.5,446.1 501.2,446.6 502.0,444.3 502.8,444.1 503.5,444.7 504.2,444.8 505.0,444.4 505.8,444.7 506.5,443.9 507.2,443.9 508.0,444.1 508.8,444.0 509.5,445.4 510.2,444.8 511.0,445.6 511.8,446.2 512.5,447.3 513.2,446.6 514.0,446.4 514.8,445.9 515.5,445.7 516.2,446.8 517.0,445.5 517.8,447.2 518.5,443.3 519.2,444.9 520.0,444.1 520.8,444.8 521.5,444.7 522.2,443.6 523.0,444.5 523.8,443.3 524.5,443.5 525.2,443.2 526.0,441.7 526.8,442.5 527.5,444.4 528.2,443.5 529.0,444.4 529.8,441.8 530.5,441.2 531.2,441.7 532.0,443.6 532.8,445.0 533.5,446.8 534.2,445.4 535.0,444.6 535.8,444.0 536.5,444.7 537.2,443.8 538.0,445.6 538.8,445.9 539.5,443.2 540.2,442.1 541.0,442.8 541.8,440.2 542.5,439.1 543.2,437.9 544.0,436.4 544.8,436.8 545.5,440.2 546.2,441.6 547.0,442.4 547.8,443.7 548.5,444.8 549.2,444.3 550.0,446.3 550.8,445.8 551.5,445.4 552.2,442.2 553.0,442.5 553.8,442.4 554.5,443.8 555.2,441.4 556.0,438.1 556.8,433.3 557.5,423.4 558.2,403.8 559.0,361.8 559.8,291.3 560.5,222.6 560.8,214.4 561.2,232.3 562.0,307.3 562.8,372.4 563.5,406.6 564.2,424.3 565.0,434.6 565.8,439.6 566.5,441.5 567.2,442.7 568.0,443.1 568.8,444.8 569.5,443.0 570.2,443.5 571.0,444.4 571.8,445.6 572.5,446.0 573.2,447.4 574.0,446.4 574.8,446.2 575.5,445.7 576.2,445.3 577.0,447.2 577.8,445.8 578.5,445.4 579.2,445.4 580.0,446.6 580.8,445.8 581.5,444.8 582.2,445.6 583.0,445.1 583.8,444.4 584.5,444.6 585.2,445.9 586.0,446.1 586.8,445.5 587.5,443.8 588.2,445.8 589.0,446.9 589.8,447.7 590.5,446.2 591.2,446.1 592.0,447.8 592.8,446.3 593.5,444.9 594.2,445.8 595.0,446.5 595.8,445.9 596.5,444.3 597.2,444.6 598.0,441.7 598.8,438.6 599.5,432.4 600.2,421.4 601.0,404.2 601.8,382.4 602.5,371.3 603.2,382.4 604.0,404.1 604.8,421.3 605.5,431.7 606.2,437.9 607.0,440.9 607.8,442.8 608.5,445.6 609.2,446.4 610.0,445.4 610.8,447.0 611.5,446.9 612.2,447.0 613.0,446.2 613.8,446.8 614.5,446.3 615.2,445.9 616.0,444.8 616.8,445.9 617.5,445.1 618.2,447.3 619.0,446.1 619.8,445.9 620.5,446.3 621.2,446.5 622.0,446.5 622.8,446.2 623.5,446.6 624.2,447.0 625.0,446.0 625.8,445.1 626.5,445.5 627.2,442.9 628.0,441.8 628.8,442.1 629.5,443.2 630.2,445.6 631.0,444.2 631.8,444.4 632.5,444.9 633.2,445.2 634.0,445.8 634.8,445.9 635.5,445.3 636.2,444.2 637.0,442.1 637.8,441.2 638.5,440.5 639.2,438.3 640.0,435.7 640.8,433.5 641.3,433.0 641.5,433.1 642.2,434.5 643.0,437.1 643.8,439.6 644.5,441.6 645.2,441.9 646.0,442.3 646.8,443.2 647.5,444.9 648.2,444.0 649.0,443.4 649.8,444.6 650.5,445.7 651.2,446.5 652.0,445.3 652.8,445.9 653.5,445.7 654.2,444.7 655.0,441.7 655.8,439.8 656.5,435.5 657.2,427.3 658.0,409.8 658.8,377.7 659.5,315.8 660.2,230.7 660.9,192.1 661.0,193.1 661.8,252.9 662.5,335.3 663.2,387.5 664.0,415.7 664.8,429.1 665.5,436.5 666.2,438.7 667.0,441.4 667.8,440.0 668.5,439.2 669.2,437.3 670.0,434.3 670.8,426.2 671.5,414.1 672.2,394.4 673.0,372.3 673.7,362.6 673.8,362.7 674.5,374.9 675.2,397.6 676.0,416.8 676.8,430.2 677.5,435.7 678.2,441.7 679.0,442.0 679.8,443.8 680.5,445.3 681.2,444.5 682.0,446.0 682.8,443.6 683.5,442.6 684.2,443.7 685.0,445.9 685.8,445.4 686.5,445.6 687.2,446.0 688.0,443.9 688.8,443.8 689.5,444.1 690.2,442.7 691.0,442.1 691.8,443.0 692.5,440.5 693.2,438.5 694.0,433.2 694.8,429.5 695.5,421.3 696.2,411.3 697.0,402.8 697.5,400.8 697.8,401.3 698.5,407.8 699.2,417.8 700.0,426.6 700.8,431.6 701.5,433.4 702.2,435.4 703.0,435.2 703.8,433.4 704.5,432.9 705.2,434.5 706.0,437.8 706.8,440.0 707.5,440.3 708.2,440.2 709.0,442.8 709.8,444.0 710.5,445.4 711.2,444.6 712.0,444.4 712.8,443.8 713.5,441.4 714.2,443.1 715.0,443.3 715.8,442.8 716.5,441.0 717.2,438.4 718.0,435.8 718.8,432.3 719.5,428.0 720.2,423.1 721.0,418.5 721.8,415.5 722.0,415.0 722.5,414.9 723.2,416.4 724.0,418.7 724.8,420.3 725.5,420.2 726.2,418.0 727.0,413.8 727.8,408.6 728.5,404.3 729.2,402.8 729.3,402.8 730.0,405.1 730.8,410.7 731.5,417.8 732.2,424.6 733.0,430.5 733.8,434.7 734.5,438.0 735.2,438.7 736.0,438.1 736.8,440.4 737.5,444.5 738.2,444.6 739.0,443.9 739.8,444.4 740.5,443.2 741.2,443.3 742.0,444.1 742.8,446.1 743.5,445.7 744.2,444.6 745.0,446.0 745.8,445.4 746.5,446.0 747.2,445.7 748.0,445.0 748.8,445.1 749.5,446.0 750.2,445.2 751.0,445.2 751.8,443.8 752.5,445.1 753.2,447.2 754.0,446.5 754.8,446.6 755.5,446.8 756.2,445.9 757.0,446.3 757.8,445.8 758.5,445.5 759.2,446.9 760.0,443.6 760.8,442.7 761.5,442.1 762.2,444.8 763.0,444.1 763.8,443.9 764.5,444.1 765.2,442.2 766.0,442.2 766.8,441.1 767.5,439.5 768.2,436.7 769.0,433.6 769.8,428.3 770.5,420.5 771.2,412.7 772.0,409.2 772.8,412.7 773.5,420.6 774.2,428.3 775.0,433.8 775.8,438.5 776.5,441.1 777.2,443.4 778.0,444.1 778.8,444.7 779.5,445.6 780.2,444.3 781.0,444.7 781.8,445.8 782.5,445.6 783.2,446.6 784.0,446.7 784.8,445.8 785.5,446.4 786.2,446.5 787.0,444.2 787.8,443.3 788.5,442.5 789.2,445.2 790.0,445.9 790.8,445.9 791.5,445.8 792.2,447.0 793.0,446.5 793.8,445.8 794.5,445.7 795.2,446.0 796.0,445.6 796.8,445.0 797.5,445.1 798.2,445.2 799.0,445.3 799.8,445.0 800.5,446.1 801.2,443.6 802.0,443.3 802.8,440.0 803.5,438.1 804.2,436.4 805.0,433.5 805.8,432.2 806.3,432.3 806.5,433.8 807.2,431.5 808.0,434.4 808.8,439.0 809.5,439.1 810.2,441.7 811.0,440.8 811.8,439.6 812.5,440.3 813.2,438.6 814.0,437.5 814.8,435.7 815.5,433.5 816.2,431.7 817.0,431.0 817.8,431.8 818.5,433.8 819.2,436.2 820.0,438.1 820.8,440.3 821.5,441.2 822.2,443.5 823.0,444.1 823.8,443.4 824.5,444.4 825.2,444.3 826.0,443.4 826.8,443.0 827.5,444.1 828.2,445.1 829.0,443.8 829.8,444.2 830.5,444.4 831.2,445.3 832.0,444.7 832.8,444.9 833.5,445.3 834.2,443.8 835.0,443.4 835.8,442.2 836.5,444.4 837.2,443.1 838.0,441.7 838.8,439.5 839.2,437.9 839.5,437.8 840.2,440.4 841.0,442.3 841.8,442.2 842.5,444.4 843.2,445.3 844.0,445.4 844.8,444.9 845.5,445.2 846.2,445.1 847.0,445.2 847.8,444.3 848.5,442.0 849.2,441.0 850.0,443.4 850.8,446.7 851.5,447.4 852.2,446.8 853.0,443.9 853.8,443.0 854.5,443.5 855.2,443.5 856.0,443.7 856.8,447.0 857.5,446.1 858.2,447.0 859.0,443.8 859.8,444.8 860.5,440.7 861.2,442.3 862.0,444.4 862.8,445.4 863.5,445.5 864.2,445.3 865.0,446.7 865.8,445.1 866.5,445.2 867.2,445.6 868.0,445.0 868.8,442.9 869.5,440.7 870.2,440.0 871.0,439.9 871.8,437.9 872.0,438.7 872.5,438.9 873.2,439.9 874.0,440.5 874.8,441.6 875.5,440.8 876.2,440.3 877.0,443.6 877.8,442.6 878.5,445.1 879.2,445.8 880.0,445.7 880.8,443.8 881.5,444.2 882.2,444.8 883.0,442.6 883.8,441.0 884.5,438.0 885.2,433.5 886.0,428.2 886.8,421.8 887.5,417.1 888.0,416.0 888.2,416.3 889.0,419.9 889.8,425.9 890.5,432.0 891.2,436.6 892.0,439.9 892.8,442.3 893.5,444.3 894.2,444.4 895.0,445.5 895.8,444.0 896.5,443.3 897.2,442.7 898.0,440.5 898.8,440.2 899.5,438.5 900.2,434.9 901.0,430.0 901.8,423.4 902.5,416.3 903.2,411.5 903.6,410.8 904.0,411.5 904.8,416.4 905.5,423.2 906.2,428.9 907.0,433.1 907.8,435.6 908.5,437.0 909.2,436.0 910.0,433.9 910.8,431.9 911.5,431.0 911.6,431.0 912.2,432.1 913.0,434.7 913.8,437.8 914.5,440.7 915.2,441.4 916.0,443.0 916.8,444.0 917.5,443.5 918.2,443.7 919.0,444.1 919.8,445.2 920.5,445.2 921.2,445.6 922.0,446.5 922.8,447.5 923.5,447.0 924.2,447.8 925.0,446.4 925.8,443.9 926.5,442.4 927.2,443.3 928.0,445.0 928.8,444.5 929.5,444.6 930.2,445.8 931.0,446.1 931.8,443.9 932.5,443.9 933.2,443.8 934.0,443.8 934.8,444.4 935.5,441.5 936.2,439.0 937.0,435.9 937.8,431.5 938.5,423.4 939.2,413.7 940.0,399.3 940.8,382.2 941.5,364.3 942.2,351.8 942.7,349.5 943.0,350.5 943.8,361.2 944.5,378.5 945.2,396.2 946.0,410.9 946.8,421.1 947.5,428.7 948.2,433.8 949.0,437.5 949.8,439.9 950.5,441.9 951.2,441.9 952.0,442.5 952.8,442.8 953.5,442.8 954.2,442.8 955.0,444.9 955.8,444.1 956.5,445.9 957.2,444.4 958.0,445.6 958.8,445.8 959.5,446.2 960.2,446.7 961.0,446.4 961.8,445.9 962.5,446.0 963.2,444.5 964.0,444.2 964.8,443.5 965.5,445.9 966.2,445.2 967.0,446.3 967.8,446.0 968.5,447.5 969.2,447.4 970.0,446.4 970.8,447.3 971.5,447.4 972.2,446.5 973.0,445.9 973.8,447.2 974.5,444.3 975.2,443.9 976.0,444.4 976.8,446.1 977.5,445.4 978.2,442.7 979.0,441.7 979.8,440.2 980.5,439.3 981.2,435.3 982.0,430.4 982.8,423.3 983.5,414.6 984.2,407.3 984.9,404.6 985.0,404.6 985.8,407.9 986.5,414.8 987.2,421.7 988.0,426.7 988.8,428.2 989.5,426.7 990.2,422.6 991.0,415.1 991.8,406.8 992.5,400.8 992.9,400.0 993.2,400.9 994.0,407.4 994.8,416.7 995.5,425.7 996.2,433.0 997.0,435.9 997.8,439.2 998.5,440.1 999.2,441.1 1000.0,441.7 1000.8,445.9 1001.5,443.7 1002.2,443.9 1003.0,443.8 1003.8,442.8 1004.5,438.9 1005.2,435.8 1006.0,432.1 1006.8,424.9 1007.5,416.1 1008.2,404.6 1009.0,393.8 1009.8,388.8 1009.8,388.8 1010.5,392.7 1011.2,403.0 1012.0,414.6 1012.8,424.5 1013.5,430.3 1014.2,435.0 1015.0,441.1 1015.8,442.1 1016.5,443.2 1017.2,445.0 1018.0,444.8 1018.8,443.4 1019.5,445.1 1020.2,444.6 1021.0,445.2 1021.8,444.5 1022.5,444.7 1023.2,442.3 1024.0,443.1 1024.8,439.0 1025.5,438.3 1026.2,435.1 1027.0,434.8 1027.2,432.9 1027.8,433.0 1028.5,434.9 1029.2,436.5 1030.0,435.5 1030.8,439.1 1031.5,439.9 1032.2,440.4 1033.0,438.6 1033.8,436.4 1034.5,431.5 1035.2,426.4 1036.0,420.7 1036.8,416.0 1037.3,414.3 1037.5,414.1 1038.2,415.4 1039.0,418.1 1039.8,420.4 1040.5,421.4 1041.2,421.9 1041.8,423.0 1042.0,423.6 1042.8,427.2 1043.5,431.7 1044.2,435.6 1045.0,438.3 1045.8,439.9 1046.5,440.2 1047.2,442.3 1048.0,443.3 1048.8,446.1 1049.5,445.5 1050.2,446.4 1051.0,445.9 1051.8,445.7 1052.5,444.5 1053.2,445.3 1054.0,445.2 1054.8,445.8 1055.5,446.0 1056.2,445.9 1057.0,445.0 1057.8,445.0 1058.5,444.2 1059.2,444.5 1060.0,445.2 1060.8,445.8 1061.5,445.0 1062.2,445.6 1063.0,445.4 1063.8,445.0 1064.5,444.8 1065.2,445.1 1066.0,444.4 1066.8,444.1 1067.5,443.8 1068.2,444.5 1069.0,443.8 1069.8,445.3 1070.5,445.7 1071.2,445.4 1072.0,446.4 1072.8,447.9 1073.5,446.5 1074.2,446.5 1075.0,447.0 1075.8,447.1 1076.5,446.3 1077.2,446.7 1078.0,446.9 1078.8,446.0 1079.5,446.0 1080.2,446.3 1081.0,447.0 1081.8,446.8 1082.5,445.9 1083.2,446.2 1084.0,447.0 1084.8,446.8 1085.5,445.5 1086.2,445.1 1087.0,444.2 1087.8,439.6 1088.5,437.1 1089.2,434.4 1090.0,430.2 1090.8,425.1 1091.5,415.9 1092.2,404.9 1093.0,393.4 1093.8,385.0 1094.2,383.2 1094.5,383.6 1095.2,389.3 1096.0,398.8 1096.8,407.9 1097.5,414.1 1098.2,416.1 1099.0,414.7 1099.8,409.5 1100.5,401.6 1101.2,393.6 1102.0,389.4 1102.2,389.4 1102.8,391.8 1103.5,400.0 1104.2,410.5 1105.0,419.7 1105.8,428.2 1106.5,432.3 1107.2,436.6 1108.0,439.8 1108.8,441.5 1109.5,443.1 1110.2,445.0 1111.0,445.3 1111.8,443.5 1112.5,443.3 1113.2,443.9 1114.0,443.4 1114.8,443.6 1115.5,446.2 1116.2,445.0 1117.0,444.4 1117.8,441.0 1118.5,440.5 1119.2,439.5 1119.6,436.2 1120.0,436.9 1120.8,437.5 1121.5,440.8 1122.2,441.0 1123.0,441.5 1123.8,444.0 1124.5,444.6 1125.2,445.7 1126.0,445.5 1126.8,444.4 1127.5,446.0 1128.2,443.8 1129.0,444.9 1129.8,442.7 1130.5,444.0 1131.2,443.4 1132.0,444.3 1132.8,443.6 1133.5,441.9 1134.2,439.3 1135.0,436.7 1135.8,434.6 1136.4,433.9 1136.5,433.9 1137.2,435.1 1138.0,437.4 1138.8,440.3 1139.5,442.0 1140.2,443.9 1141.0,444.8 1141.8,446.3 1142.5,444.1 1143.2,444.4 1144.0,445.1 1144.8,445.5 1145.5,445.1 1146.2,445.4 1147.0,444.8 1147.8,444.9 1148.5,444.4 1149.2,445.0 1150.0,445.0 1150.8,443.9 1151.5,447.9 1152.2,447.9 1153.0,446.0 1153.8,446.9 1154.5,446.2 1155.2,445.2 1156.0,446.1 1156.8,445.6 1157.5,444.7 1158.2,444.8 1159.0,444.1 1159.8,442.9 1160.5,441.0 1161.2,439.9 1162.0,437.6 1162.8,434.8 1163.5,432.5 1164.0,432.0 1164.2,432.1 1165.0,433.7 1165.8,436.3 1166.5,438.1 1167.2,439.3 1168.0,440.6 1168.8,442.1 1169.5,442.3 1170.2,441.7 1171.0,439.8 1171.8,437.7 1172.5,435.1 1173.2,432.6 1174.0,431.3 1174.2,431.2 1174.8,431.8 1175.5,433.9 1176.2,436.6 1177.0,439.4 1177.8,442.0 1178.5,442.5 1179.2,443.3 1180.0,443.6 1180.8,445.1 1181.5,445.6 1182.2,445.7 1183.0,446.3 1183.8,445.5 1184.5,444.0 1185.2,443.7 1186.0,444.6 1186.8,444.9 1187.5,444.8 1188.2,444.9 1189.0,446.1 1189.8,444.1 1190.5,444.7 1191.2,442.9 1192.0,443.0 1192.8,441.3 1193.5,438.1 1194.2,435.2 1195.0,432.8 1195.6,432.0 1195.8,432.0 1196.5,433.3 1197.2,435.8 1198.0,438.6 1198.8,440.3 1199.5,440.1 1200.2,439.4 1201.0,437.2 1201.8,436.5 1202.5,436.6 1203.2,438.5 1203.2,437.5 1204.0,438.8 1204.8,440.2 1205.5,441.8 1206.2,444.4 1207.0,444.8 1207.8,445.7 1208.5,445.1 1209.2,445.5 1210.0,444.8 1210.8,445.9 1211.5,446.1 1212.2,445.6 1213.0,447.3 1213.8,447.1 1214.5,446.8 1215.2,447.2 1216.0,446.4 1216.8,445.8 1217.5,446.0 1218.2,447.8 1219.0,445.8 1219.8,444.9 1220.5,441.7 1221.2,443.0 1222.0,445.4 1222.8,444.8 1223.5,443.2 1224.2,440.7 1225.0,437.5 1225.8,437.0 1226.5,437.4 1226.6,436.5 1227.2,437.9 1228.0,441.1 1228.8,441.7 1229.5,441.9 1230.2,444.4 1231.0,443.6 1231.8,443.8 1232.5,441.3 1233.2,439.0 1234.0,437.7 1234.8,433.8 1235.5,428.7 1236.2,422.2 1237.0,415.1 1237.8,410.7 1238.0,410.4 1238.5,411.7 1239.2,417.3 1240.0,424.7 1240.8,431.5 1241.5,436.8 1242.2,439.4 1243.0,440.9 1243.8,441.9 1244.5,442.3 1245.2,442.0 1246.0,440.8 1246.8,441.8 1247.5,442.9 1248.2,443.0 1249.0,444.2 1249.8,444.7 1250.5,445.4 1251.2,443.2 1252.0,441.9 1252.8,441.6 1253.5,435.2 1254.2,432.9 1255.0,433.3 1255.2,433.2 1255.8,433.3 1256.5,435.0 1257.2,438.4 1258.0,439.6 1258.8,442.5 1259.5,442.9 1260.2,445.0 1261.0,443.0 1261.8,443.9 1262.5,442.8 1263.2,443.9 1264.0,444.3 1264.8,445.0 1265.5,443.3 1266.2,444.1 1267.0,441.8 1267.8,441.9 1268.5,440.5 1269.2,437.4 1270.0,434.8 1270.8,429.2 1271.5,423.1 1272.2,417.2 1273.0,413.6 1273.3,413.2 1273.8,414.0 1274.5,418.2 1275.2,424.3 1276.0,430.6 1276.8,435.0 1277.5,437.9 1278.2,440.3 1279.0,442.7 1279.8,445.0 1280.5,444.7 1281.2,444.4 1282.0,444.3 1282.8,445.1 1283.5,445.0 1284.2,443.3 1285.0,444.0 1285.8,445.1 1286.5,446.9 1287.2,447.3 1288.0,446.5 1288.8,445.2 1289.5,444.5 1290.2,443.7 1291.0,442.2 1291.8,442.6 1292.5,439.9 1293.2,438.7 1293.9,435.7 1294.0,437.3 1294.8,437.1 1295.5,440.2 1296.2,442.2 1297.0,443.1 1297.8,444.3 1298.5,443.5 1299.2,444.1 1300.0,444.8 1300.8,443.7 1301.5,443.5 1302.2,443.2 1303.0,441.6 1303.8,439.2 1304.5,435.8 1305.2,432.6 1306.0,428.1 1306.8,423.8 1307.5,421.2 1307.6,421.0 1308.2,421.0 1309.0,422.4 1309.8,424.1 1310.5,425.1 1311.2,426.0 1311.7,427.0 1312.0,427.9 1312.8,431.1 1313.5,434.9 1314.2,438.2 1315.0,440.0 1315.8,442.6 1316.5,442.7 1317.2,444.5 1318.0,445.1 1318.8,445.5 1319.5,446.2 1320.2,443.1 1321.0,443.6 1321.8,445.6 1322.5,446.6 1323.2,446.5 1324.0,445.3 1324.8,444.4 1325.5,445.6 1326.2,444.7 1327.0,447.2 1327.8,445.0 1328.5,446.3 1329.2,445.2 1330.0,446.6 1330.8,447.3 1331.5,445.8 1332.2,446.8 1333.0,444.6 1333.8,444.2 1334.5,446.0 1335.2,445.1 1336.0,445.2 1336.8,446.5 1337.5,447.1 1338.2,445.1 1339.0,446.4 1339.8,445.7 1340.5,444.8 1341.2,444.7 1342.0,444.3 1342.8,445.1 1343.5,444.0 1344.2,444.6 1345.0,444.7 1345.8,445.2 1346.5,445.1 1347.2,443.4 1348.0,446.7 1348.8,447.0 1349.5,445.0 1350.2,445.4 1351.0,445.8 1351.8,444.2 1352.5,442.9 1353.2,440.6 1354.0,440.4 1354.8,438.4 1355.5,435.0 1355.7,434.9 1356.2,434.3 1357.0,435.7 1357.8,437.2 1358.5,438.2 1359.2,437.1 1360.0,436.3 1360.8,434.7 1361.5,432.6 1362.2,430.1 1363.0,427.3 1363.8,424.9 1364.5,423.7 1364.8,423.6 1365.2,423.9 1366.0,425.6 1366.8,428.4 1367.5,431.4 1368.2,434.0 1369.0,436.2 1369.8,438.2 1370.5,440.4 1371.2,441.4 1372.0,442.2 1372.8,443.8 1373.5,444.1 1374.2,445.1 1375.0,444.6 1375.8,444.9 1376.5,445.1 1377.2,445.6 1378.0,446.4 1378.8,446.9 1379.5,446.6 1380.2,445.4 1381.0,447.7 1381.8,445.9 1382.5,446.1 1383.2,445.3 1384.0,445.4 1384.8,445.0 1385.5,446.0 1386.2,446.7 1387.0,445.2 1387.8,445.4 1388.5,446.1 1389.2,445.5 1390.0,445.3 1390.8,446.9 1391.5,445.9 1392.2,444.2 1393.0,445.5 1393.8,446.7 1394.5,444.9 1395.2,444.8 1396.0,446.3 1396.8,444.7 1397.5,446.3 1398.2,448.0 1399.0,447.3 1399.8,445.3 1400.5,445.1 1401.2,443.1 1402.0,444.6 1402.8,442.9 1403.5,443.9 1404.2,444.6 1405.0,445.5 1405.8,445.7 1406.5,446.0 1407.2,446.2 1408.0,445.6 1408.8,445.0 1409.5,444.1 1410.2,442.1 1411.0,445.2" fill="none" stroke="#4a4b50" stroke-width="6.2" stroke-linejoin="bevel"/>
<rect x="231.9" y="2.2" width="1180.8" height="950.2" fill="none" stroke="#231f20" stroke-width="3.8"/>
<path d="M400.6 952V940 M569.5 952V940 M738.4 952V940 M907.3 952V940 M1076.2 952V940 M1245.1 952V940" stroke="#231f20" stroke-width="2.8" fill="none"/>
<text x="231.7" y="1012" font-size="56.5" text-anchor="middle">10</text>
<text x="400.6" y="1012" font-size="56.5" text-anchor="middle">20</text>
<text x="569.5" y="1012" font-size="56.5" text-anchor="middle">30</text>
<text x="738.4" y="1012" font-size="56.5" text-anchor="middle">40</text>
<text x="907.3" y="1012" font-size="56.5" text-anchor="middle">50</text>
<text x="1076.2" y="1012" font-size="56.5" text-anchor="middle">60</text>
<text x="1245.1" y="1012" font-size="56.5" text-anchor="middle">70</text>
<text x="1414.0" y="1012" font-size="56.5" text-anchor="middle">80</text>
<text x="822" y="1088.3" font-size="57" text-anchor="middle">2<tspan font-style="italic">θ</tspan>/(°)</text>
<text transform="translate(179.8,485.5) rotate(-90)" font-size="56.5" text-anchor="middle">Intensity</text>
<path d="M1067 341.1H1159" stroke="#231f20" stroke-width="5.6"/>
<text x="1159.5" y="355.9" font-size="56.2">LMFP/C-2</text>
<path d="M1068 613.6H1159" stroke="#d9262b" stroke-width="5.6"/>
<text x="1162.5" y="631.2" font-size="56.5">LMFP/C</text>
<text x="1063" y="828.7" font-size="55.7">PDF#74-0375</text>
<text transform="translate(359.5,320.4) rotate(-90)" font-size="42" text-anchor="middle">(020)</text>
<text transform="translate(416.5,221.7) rotate(-90)" font-size="42" text-anchor="middle">(011)</text>
<text transform="translate(445.5,296.6) rotate(-90)" font-size="42" text-anchor="middle">(120)</text>
<text transform="translate(476.7,351.4) rotate(-90)" font-size="42" text-anchor="middle">(101)</text>
<text transform="translate(501.3,133.4) rotate(-90)" font-size="42" text-anchor="middle">(111)</text>
<text transform="translate(572.0,149.9) rotate(-90)" font-size="42" text-anchor="middle">(200)</text>
<text transform="translate(614.7,292.8) rotate(-90)" font-size="42" text-anchor="middle">(031)</text>
<text transform="translate(674.0,123.3) rotate(-90)" font-size="42" text-anchor="middle">(131)</text>
<text transform="translate(696.0,312.0) rotate(-90)" font-size="42" text-anchor="middle">(211)</text>
<text transform="translate(784.0,339.9) rotate(-90)" font-size="42" text-anchor="middle">(112)</text>
<text transform="translate(954.0,284.0) rotate(-90)" font-size="42" text-anchor="middle">(222)</text>
<text transform="translate(1024.5,324.4) rotate(-90)" font-size="42" text-anchor="middle">(331)</text>
</svg></body></html>
